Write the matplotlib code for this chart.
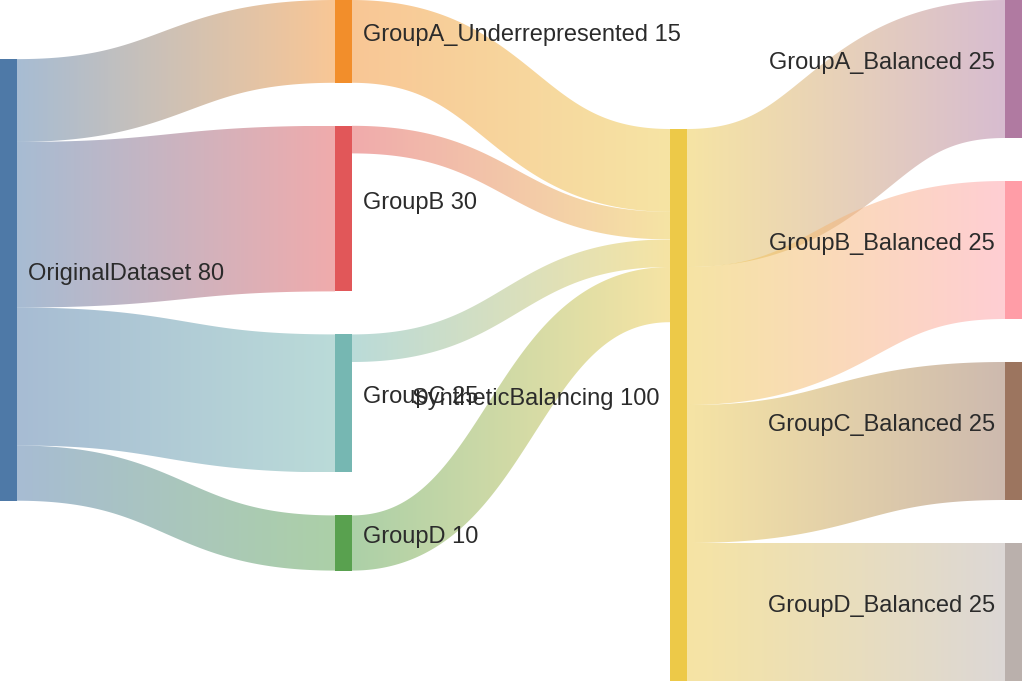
import numpy as np
import matplotlib
matplotlib.use("Agg")
import matplotlib.pyplot as plt
from matplotlib.patches import Rectangle, Polygon
from matplotlib.colors import to_rgb

plt.rcParams['font.family'] = ['Liberation Sans', 'DejaVu Sans']

# Data
nodes = ['OriginalDataset', 'GroupA_Underrepresented', 'GroupB', 'GroupC', 'GroupD',
         'SyntheticBalancing', 'GroupA_Balanced', 'GroupB_Balanced', 'GroupC_Balanced',
         'GroupD_Balanced']
node_colors = ['#4e79a7', '#f28e2b', '#e15759', '#76b7b2', '#59a14f',
               '#edc948', '#b07aa1', '#ff9da7', '#9c755f', '#bab0ac']
link_source = [0, 0, 0, 0, 1, 2, 3, 4, 5, 5, 5, 5]
link_target = [1, 2, 3, 4, 5, 5, 5, 5, 6, 7, 8, 9]
link_value = [15, 30, 25, 10, 15, 5, 5, 10, 25, 25, 25, 25]

# Layout settings (pixels)
W, H = 1024, 683
plot_h = 681  # usable height for the nodes
node_w = 17
gap = 43
right_edge = 1022
link_alpha = 0.5
col_align = {0: 'weighted', 1: 'top', 2: 'bottom', 3: 'top'}

n = len(nodes)
val_in = np.zeros(n)
val_out = np.zeros(n)
for s, t, v in zip(link_source, link_target, link_value):
    val_out[s] += v
    val_in[t] += v
node_val = np.maximum(val_in, val_out)

# column (depth) of each node
depth = [0] * n
for _ in range(n):
    for s, t in zip(link_source, link_target):
        depth[t] = max(depth[t], depth[s] + 1)
ncol = max(depth) + 1
cols = [[i for i in range(n) if depth[i] == c] for c in range(ncol)]
col_x = [c * (right_edge - node_w) / (ncol - 1) for c in range(ncol)]

k = min((plot_h - gap * (len(c) - 1)) / sum(node_val[i] for i in c) for c in cols)
node_h = node_val * k
node_y = np.zeros(n)

for c in range(ncol):
    if col_align[c] == 'top':
        y = 0
        for i in cols[c]:
            node_y[i] = y
            y += node_h[i] + gap
    elif col_align[c] == 'bottom':
        y = plot_h
        for i in reversed(cols[c]):
            node_y[i] = y - node_h[i]
            y -= node_h[i] + gap
for c in range(ncol):
    if col_align[c] == 'weighted':
        for i in cols[c]:
            num, den = 0, 0
            for s, t, v in zip(link_source, link_target, link_value):
                if s == i:
                    num += v * (node_y[t] + node_h[t] / 2)
                    den += v
                if t == i:
                    num += v * (node_y[s] + node_h[s] / 2)
                    den += v
            node_y[i] = num / den - node_h[i] / 2

# link offsets at each end
L = len(link_value)
src_off = np.zeros(L)
tgt_off = np.zeros(L)
for i in range(n):
    outs = sorted([j for j in range(L) if link_source[j] == i], key=lambda j: node_y[link_target[j]])
    y = node_y[i]
    for j in outs:
        src_off[j] = y
        y += link_value[j] * k
    ins = sorted([j for j in range(L) if link_target[j] == i], key=lambda j: node_y[link_source[j]])
    y = node_y[i]
    for j in ins:
        tgt_off[j] = y
        y += link_value[j] * k

fig = plt.figure(figsize=(W / 100, H / 100), dpi=100)
ax = fig.add_axes([0, 0, 1, 1])

t = np.linspace(0, 1, 200)
for j in range(L):
    s, tg = link_source[j], link_target[j]
    w = link_value[j] * k
    x0 = col_x[depth[s]] + node_w
    x1 = col_x[depth[tg]]
    y0 = src_off[j] + w / 2
    y1 = tgt_off[j] + w / 2
    xm = (x0 + x1) / 2
    # cubic bezier centre line, stroked to width w
    px = (1 - t) ** 3 * x0 + 3 * (1 - t) ** 2 * t * xm + 3 * (1 - t) * t ** 2 * xm + t ** 3 * x1
    py = (1 - t) ** 3 * y0 + 3 * (1 - t) ** 2 * t * y0 + 3 * (1 - t) * t ** 2 * y1 + t ** 3 * y1
    dx = 3 * (1 - t) ** 2 * (xm - x0) + 3 * t ** 2 * (x1 - xm)
    dy = 6 * (1 - t) * t * (y1 - y0)
    nrm = np.hypot(dx, dy)
    nx, ny = -dy / nrm, dx / nrm
    upper = np.column_stack([px + nx * w / 2, py + ny * w / 2])
    lower = np.column_stack([px - nx * w / 2, py - ny * w / 2])
    poly = Polygon(np.vstack([upper, lower[::-1]]), closed=True, transform=ax.transData,
                   facecolor='none', edgecolor='none')
    c0 = np.array(to_rgb(node_colors[s]))
    c1 = np.array(to_rgb(node_colors[tg]))
    f = np.linspace(0, 1, 256)[:, None]
    grad = np.ones((1, 256, 4))
    grad[0, :, :3] = c0 * (1 - f) + c1 * f
    grad[0, :, 3] = link_alpha
    ymin = min(upper[:, 1].min(), lower[:, 1].min())
    ymax = max(upper[:, 1].max(), lower[:, 1].max())
    im = ax.imshow(grad, extent=(x0, x1, ymax, ymin), aspect='auto', interpolation='bilinear',
                   zorder=1)
    im.set_clip_path(poly)

for i in range(n):
    x = col_x[depth[i]]
    ax.add_patch(Rectangle((x, node_y[i]), node_w, node_h[i], facecolor=node_colors[i],
                           edgecolor='none', zorder=2))
    label = f'{nodes[i]} {node_val[i]:g}'
    yc = node_y[i] + node_h[i] / 2
    if x < W / 2:
        ax.text(x + node_w + 11, yc, label, ha='left', va='baseline', fontsize=17,
                color='#2b2b2b', zorder=3)
    else:
        ax.text(x - 10, yc, label, ha='right', va='baseline', fontsize=17,
                color='#2b2b2b', zorder=3)

ax.set_xlim(0, W)
ax.set_ylim(H, 0)
ax.axis('off')
fig.savefig('out.png', dpi=100)
